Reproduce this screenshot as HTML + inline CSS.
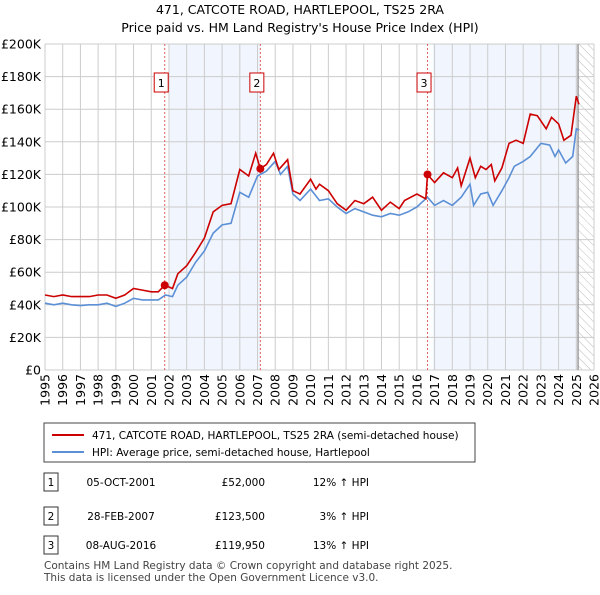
<!DOCTYPE html>
<html><head><meta charset="utf-8"><style>
body{margin:0;background:#fff;font-family:"Liberation Sans","DejaVu Sans",sans-serif;}
svg text{font-family:"DejaVu Sans","Liberation Sans",sans-serif;}
</style></head><body>
<svg width="600" height="590" viewBox="0 0 600 590" xmlns="http://www.w3.org/2000/svg">
<defs><pattern id="hatch" width="6" height="6" patternUnits="userSpaceOnUse" patternTransform="rotate(-45)"><line x1="0" y1="0" x2="0" y2="6" stroke="#bbb" stroke-width="1"/></pattern></defs>
<text x="300" y="14" text-anchor="middle" font-size="12.5">471, CATCOTE ROAD, HARTLEPOOL, TS25 2RA</text>
<text x="300" y="32" text-anchor="middle" font-size="12.5">Price paid vs. HM Land Registry's House Price Index (HPI)</text>
<g id="plot"></g>
<g id="legend">
<rect x="44" y="423" width="431" height="39" fill="#fff" stroke="#444"/>
<line x1="52" y1="435" x2="84" y2="435" stroke="#cc0000" stroke-width="2"/>
<text x="92" y="439" font-size="10.5">471, CATCOTE ROAD, HARTLEPOOL, TS25 2RA (semi-detached house)</text>
<line x1="52" y1="452" x2="84" y2="452" stroke="#5b8fd6" stroke-width="2"/>
<text x="92" y="456" font-size="10.5">HPI: Average price, semi-detached house, Hartlepool</text>
</g>
<g id="table" font-size="10.5"></g>
<text x="44" y="569" font-size="10.5" fill="#444">Contains HM Land Registry data © Crown copyright and database right 2025.</text>
<text x="44" y="581" font-size="10.5" fill="#444">This data is licensed under the Open Government Licence v3.0.</text>
</svg>
<script>
const hpiYears=[1995,1995.5,1996,1996.5,1997,1997.5,1998,1998.5,1999,1999.5,2000,2000.5,2001,2001.4,2001.8,2002.2,2002.5,2003,2003.5,2004,2004.5,2005,2005.5,2006,2006.5,2007,2007.5,2008,2008.3,2008.7,2009,2009.4,2010,2010.5,2011,2011.5,2012,2012.5,2013,2013.5,2014,2014.5,2015,2015.5,2016,2016.6,2017,2017.5,2018,2018.5,2019,2019.2,2019.6,2020,2020.3,2020.8,2021.2,2021.5,2022,2022.4,2023,2023.5,2023.8,2024,2024.4,2024.8,2025,2025.15];
const hpiValues=[41,40,41,40,39.5,40,40,41,39,41,44,43,43,43,46,45,52,57,66,73,84,89,90,109,106,119,122,128,120,125,108,104,111,104,105,100,96,99,97,95,94,96,95,97,100,106,101,104,101,106,114,101,108,109,101,110,118,125,128,131,139,138,131,135,127,131,148,147];
const priceYears=[1995,1995.5,1996,1996.5,1997,1997.5,1998,1998.5,1999,1999.5,2000,2000.5,2001,2001.4,2001.76,2002.2,2002.5,2003,2003.5,2004,2004.5,2005,2005.5,2006,2006.5,2006.9,2007.16,2007.5,2007.9,2008.2,2008.7,2009,2009.4,2010,2010.3,2010.5,2011,2011.5,2012,2012.5,2013,2013.5,2014,2014.5,2015,2015.3,2016,2016.5,2016.6,2017,2017.5,2018,2018.3,2018.5,2019,2019.3,2019.6,2019.9,2020.2,2020.4,2020.8,2021.2,2021.6,2022,2022.4,2022.8,2023.3,2023.6,2024,2024.3,2024.7,2025,2025.15];
const priceValues=[46,45,46,45,45,45,46,46,44,46,50,49,48,48,52,50,59,64,72,81,97,101,102,123,119,133,123.5,126,133,123,129,110,108,117,111,114,110,102,98,104,102,106,98,103,99,104,108,105,119.95,115,121,118,124,113,130,118,125,123,126,116,124,139,141,139,157,156,148,155,151,141,144,168,163];
const salesYears=[2001.76,2007.16,2016.6];
const salesPrices=[52,123.5,119.95];
const salesLabels=["1","2","3"];
const salesDates=["05-OCT-2001","28-FEB-2007","08-AUG-2016"];
const salesPriceText=["£52,000","£123,500","£119,950"];
const salesHpiText=["12% ↑ HPI","3% ↑ HPI","13% ↑ HPI"];
const yTicks=[0,20,40,60,80,100,120,140,160,180,200];
const xTicks=[1995,1996,1997,1998,1999,2000,2001,2002,2003,2004,2005,2006,2007,2008,2009,2010,2011,2012,2013,2014,2015,2016,2017,2018,2019,2020,2021,2022,2023,2024,2025,2026];
const NS="http://www.w3.org/2000/svg";
const X0=45,X1=594,Y0=370,Y1=44;
const xs=y=>X0+(y-1995)/31*(X1-X0);
const ys=v=>Y0-v/200*(Y0-Y1);
const plot=document.getElementById('plot');
function mk(tag,attrs,parent){const e=document.createElementNS(NS,tag);for(const k in attrs)e.setAttribute(k,attrs[k]);(parent||plot).appendChild(e);return e;}
let e=mk('rect',{x:xs(2002),y:Y1,width:xs(2007.16)-xs(2002),height:Y0-Y1,fill:'#eef3fc',opacity:0.8});


e=mk('rect',{x:xs(2016.9),y:Y1,width:xs(2025.1)-xs(2016.9),height:Y0-Y1,fill:'#eef3fc',opacity:0.8});


e=mk('rect',{x:xs(2025.1),y:Y1,width:X1-xs(2025.1),height:Y0-Y1,fill:'url(#hatch)'});


yTicks.forEach(v=>{
 e=mk('line',{x1:X0,x2:X1,y1:ys(v),y2:ys(v),stroke:'#cccccc','stroke-width':1});
 
 
 e=mk('text',{x:X0-4,y:ys(v)+4.5,'text-anchor':'end','font-size':12.5});
 e.textContent=v===0?'£0':'£'+v+'K';
 
 
});
xTicks.forEach(y=>{
 e=mk('line',{x1:xs(y),x2:xs(y),y1:Y1,y2:Y0,stroke:'#cccccc','stroke-width':1});
 
 
 e=mk('text',{x:0,y:0,'text-anchor':'end','font-size':12.5,transform:`translate(${xs(y)+4.5},${Y0+4}) rotate(-90)`});
 e.textContent=y;
 
 
});
e=mk('line',{x1:xs(2025.1),x2:xs(2025.1),y1:Y1,y2:Y0,stroke:'#888','stroke-width':1.2});


salesYears.forEach((y,i)=>{
 e=mk('line',{x1:xs(y),x2:xs(y),y1:Y1,y2:Y0,stroke:'#e06060','stroke-dasharray':'2,2','stroke-width':1});
 
 
 e=mk('rect',{x:xs(y)-10.5,y:73,width:14,height:19,fill:'#fff',stroke:'#cc0000'});
 
 
 e=mk('text',{x:xs(y)-3.5,y:87,'text-anchor':'middle','font-size':11});
 e.textContent=salesLabels[i];
 
 
});
const path=(yrs,vals)=>yrs.map((y,i)=>(i?'L':'M')+xs(y).toFixed(1)+','+ys(vals[i]).toFixed(1)).join(' ');
e=mk('path',{d:path(hpiYears,hpiValues),fill:'none',stroke:'#5b8fd6','stroke-width':1.6});


e=mk('path',{d:path(priceYears,priceValues),fill:'none',stroke:'#cc0000','stroke-width':1.6});


salesYears.forEach((y,i)=>{
 e=mk('circle',{cx:xs(y),cy:ys(salesPrices[i]),r:4,fill:'#cc0000'});
 
 
});
const tb=document.getElementById('table');
const rowsY=[482,516,545];
salesYears.forEach((y,i)=>{
 const cy=rowsY[i];
 e=mk('rect',{x:44,y:cy-9,width:14,height:18,fill:'#fff',stroke:'#333'},tb);
 
 
 e=mk('text',{x:51,y:cy+4,'text-anchor':'middle'},tb);e.textContent=salesLabels[i];
 
 
 e=mk('text',{x:121,y:cy+4,'text-anchor':'middle'},tb);e.textContent=salesDates[i];
 
 
 e=mk('text',{x:265,y:cy+4,'text-anchor':'end'},tb);e.textContent=salesPriceText[i];
 
 
 e=mk('text',{x:369,y:cy+4,'text-anchor':'end'},tb);e.textContent=salesHpiText[i];
 
 
});
</script>
</body></html>
